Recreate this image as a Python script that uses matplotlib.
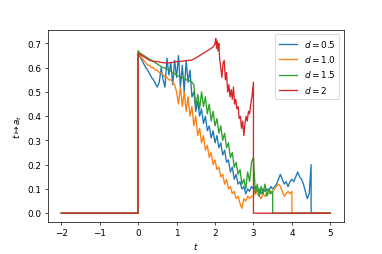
import numpy as np
import matplotlib.pyplot as plt

# sample times (step 0.05) for the first three runs
t_blue = np.round(np.arange(0, 4.5001, 0.05), 2)
t_orange = np.round(np.arange(0, 4.0001, 0.05), 2)
t_green = np.round(np.arange(0, 3.5001, 0.05), 2)

blue = [0.66, 0.645, 0.63, 0.615, 0.60, 0.59, 0.575, 0.56, 0.55, 0.535,
        0.52, 0.54, 0.60, 0.55, 0.52, 0.64, 0.57, 0.62, 0.53, 0.63,
        0.56, 0.65, 0.52, 0.61, 0.50, 0.63, 0.54, 0.59, 0.48, 0.50,
        0.42, 0.46, 0.40, 0.43, 0.37, 0.40, 0.34, 0.36, 0.31, 0.34,
        0.29, 0.32, 0.27, 0.29, 0.24, 0.26, 0.21, 0.22, 0.17, 0.19,
        0.14, 0.16, 0.12, 0.13, 0.10, 0.11, 0.08, 0.10, 0.09, 0.11,
        0.10, 0.11, 0.09, 0.10, 0.08, 0.10, 0.09, 0.10, 0.09, 0.11,
        0.10, 0.11, 0.12, 0.14, 0.16, 0.14, 0.12, 0.13, 0.11, 0.13,
        0.14, 0.13, 0.15, 0.17, 0.15, 0.14, 0.12, 0.09, 0.06, 0.08,
        0.20]

orange = [0.66, 0.65, 0.64, 0.63, 0.62, 0.61, 0.61, 0.60, 0.60, 0.59,
          0.59, 0.58, 0.58, 0.57, 0.56, 0.56, 0.55, 0.55, 0.54, 0.53,
          0.50, 0.45, 0.52, 0.44, 0.50, 0.42, 0.48, 0.40, 0.44, 0.36,
          0.40, 0.32, 0.35, 0.29, 0.32, 0.26, 0.28, 0.23, 0.25, 0.20,
          0.22, 0.18, 0.19, 0.15, 0.16, 0.12, 0.14, 0.10, 0.11, 0.08,
          0.09, 0.06, 0.07, 0.04, 0.02, 0.06, 0.05, 0.07, 0.06, 0.07,
          0.07, 0.10, 0.08, 0.07, 0.06, 0.08, 0.07, 0.08, 0.08, 0.09,
          0.09, 0.10, 0.11, 0.12, 0.11, 0.09, 0.07, 0.08, 0.09, 0.08,
          0.09]

green = [0.67, 0.66, 0.655, 0.65, 0.645, 0.64, 0.635, 0.63, 0.625, 0.62,
         0.615, 0.61, 0.605, 0.60, 0.60, 0.595, 0.59, 0.585, 0.58, 0.575,
         0.57, 0.565, 0.56, 0.56, 0.555, 0.55, 0.55, 0.545, 0.54, 0.53,
         0.44, 0.49, 0.43, 0.50, 0.44, 0.48, 0.41, 0.45, 0.38, 0.42,
         0.36, 0.39, 0.33, 0.36, 0.30, 0.33, 0.27, 0.29, 0.23, 0.25,
         0.19, 0.21, 0.16, 0.18, 0.12, 0.14, 0.10, 0.17, 0.13, 0.21,
         0.23, 0.08, 0.12, 0.07, 0.11, 0.08, 0.12, 0.07, 0.10, 0.08,
         0.09]

t_red = [0.00, 0.05, 0.10, 0.15, 0.20, 0.25, 0.30, 0.40, 0.50, 0.60,
         0.70, 0.80, 0.90, 1.00, 1.10, 1.20, 1.30, 1.40, 1.50, 1.60,
         1.70, 1.80, 1.90, 1.95, 2.00, 2.02, 2.04, 2.06, 2.08, 2.10,
         2.12, 2.15, 2.18, 2.21, 2.24, 2.27, 2.30, 2.33, 2.36, 2.39,
         2.42, 2.45, 2.48, 2.51, 2.54, 2.57, 2.60, 2.63, 2.66, 2.69,
         2.72, 2.75, 2.78, 2.81, 2.84, 2.87, 2.90, 2.93, 2.96, 3.00]
red = [0.66, 0.655, 0.65, 0.645, 0.64, 0.635, 0.63, 0.627, 0.625, 0.622,
       0.62, 0.62, 0.622, 0.625, 0.626, 0.628, 0.63, 0.632, 0.64, 0.65,
       0.66, 0.67, 0.68, 0.685, 0.70, 0.72, 0.68, 0.71, 0.67, 0.70,
       0.64, 0.60, 0.56, 0.62, 0.63, 0.55, 0.58, 0.50, 0.53, 0.48,
       0.51, 0.47, 0.52, 0.45, 0.47, 0.43, 0.44, 0.39, 0.40, 0.35,
       0.38, 0.32, 0.37, 0.40, 0.38, 0.42, 0.41, 0.45, 0.48, 0.54]

series = [(t_blue, blue, 'tab:blue', r'$d = 0.5$'),
          (t_orange, orange, 'tab:orange', r'$d = 1.0$'),
          (t_green, green, 'tab:green', r'$d = 1.5$'),
          (t_red, red, 'tab:red', r'$d = 2$')]

fig, ax = plt.subplots(figsize=(6, 4), dpi=382 / 6)
fig.subplots_adjust(bottom=0.126)

for t, v, c, lab in series:
    # zero before the start, zero again after the run ends
    x = [-2, 0] + list(t) + [t[-1], 5]
    y = [0, 0] + list(v) + [0, 0]
    ax.plot(x, y, color=c, label=lab)

ax.set_xlabel(r'$t$')
ax.set_ylabel(r'$t \mapsto a_t$')
ax.legend(loc='upper right')

fig.savefig('out.png')
